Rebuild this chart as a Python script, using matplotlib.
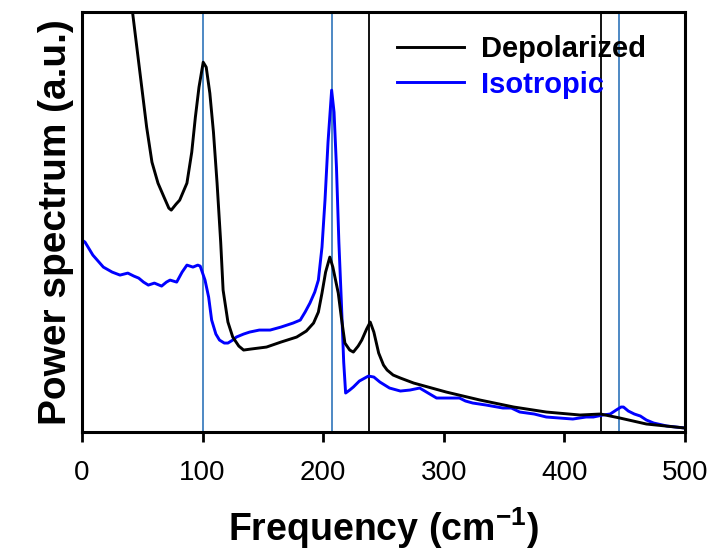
import matplotlib.pyplot as plt
import numpy as np

plt.rcParams['font.family'] = ['Liberation Sans', 'DejaVu Sans']

# depolarized spectrum (frequency in cm^-1, intensity in a.u.)
freq_depol = [38, 42, 48, 53.6, 58, 63, 68, 72, 74, 78, 81, 87, 91, 94, 97, 100.5,
              103, 106, 109, 112, 115, 117, 121, 125, 130, 134, 140, 153, 165, 178,
              186, 192, 196, 199, 202, 205.5, 208, 212.5, 215, 218, 222, 225, 229,
              232, 236, 239, 242, 246, 250, 253, 258, 264, 275, 302, 330, 358, 385,
              413, 430, 446, 468, 500]
int_depol = [470, 419, 360, 305, 270, 249, 235, 224, 222, 228, 232, 249, 280, 315,
             345, 370, 365, 339, 300, 249, 190, 142, 110, 95, 86, 82, 83, 85, 90, 95,
             101, 109, 120, 139, 160, 175, 165, 139, 115, 89, 82, 80, 86, 92, 103,
             110, 100, 79, 67, 62, 57, 54, 49, 40, 32, 25, 20, 17, 18, 14, 8, 4]

# isotropic spectrum
freq_iso = [0, 2.5, 9, 17.7, 25, 31.5, 38, 43, 47, 51, 55, 60, 66, 70, 73, 78.5, 83,
            87, 92, 96, 98, 102, 105, 107.5, 111, 114, 118, 121, 125, 128, 134, 139,
            147, 156, 165, 175, 181, 185, 189, 193, 196, 199, 201.5, 204, 207, 209,
            211, 213, 215, 217, 218.6, 222, 225, 230, 237.5, 242, 247, 255, 264, 272,
            280, 287, 294, 303, 313, 318, 324, 335, 349, 356, 363, 375, 385, 396,
            407, 418, 424, 432, 438, 443, 447, 449, 453, 458, 463, 468, 474, 485, 500]
int_iso = [192, 190, 177, 165, 160, 157, 159, 156, 154, 150, 147, 149, 146, 150, 152,
           150, 160, 167, 165, 167, 166, 152, 135, 112, 98, 92, 89, 89, 92, 95, 98,
           100, 102, 102, 105, 109, 112, 120, 129, 140, 152, 185, 232, 290, 342, 320,
           265, 190, 132, 70, 39, 42, 45, 51, 56, 55, 50, 44, 41, 42, 44, 39, 34, 34,
           34, 31, 29, 27, 24, 24, 20, 18, 15, 14, 13, 15, 15, 17, 18, 22, 25, 25, 21,
           18, 16, 12, 9, 6, 4]

# marker lines
vlines_iso = [100, 207, 445]
vlines_depol = [238, 430]

fig = plt.figure(figsize=(7.15, 5.56), dpi=100)
ax = fig.add_axes([0.1147, 0.223, 0.8433, 0.755])

for v in vlines_iso:
    ax.axvline(v, color='#3f7fbf', lw=1.3, zorder=1)
for v in vlines_depol:
    ax.axvline(v, color='black', lw=1.3, zorder=1)

ax.plot(freq_depol, int_depol, color='black', lw=2.1, label='Depolarized', zorder=3)
ax.plot(freq_iso, int_iso, color='#0000ff', lw=2.1, label='Isotropic', zorder=2)

ax.set_xlim(0, 500)
ax.set_ylim(0, 420)
ax.set_xticks(np.arange(0, 501, 100))
ax.set_yticks([])
ax.tick_params(axis='x', direction='out', length=7, width=2, labelsize=20, pad=13)
for s in ax.spines.values():
    s.set_linewidth(2.2)

ax.set_xlabel('Frequency (cm$^{\\mathregular{-1}}$)', fontsize=27, fontweight='bold', labelpad=14)
ax.set_ylabel('Power spectrum (a.u.)', fontsize=28, fontweight='bold', labelpad=6)

leg = ax.legend(loc='upper left', bbox_to_anchor=(0.498, 0.98), frameon=False,
                borderpad=0, prop={'weight': 'bold', 'size': 21}, handlelength=2.3,
                handletextpad=0.6, labelspacing=0.25,
                labelcolor=['black', '#0000ff'])

fig.savefig('out.png', dpi=100)
